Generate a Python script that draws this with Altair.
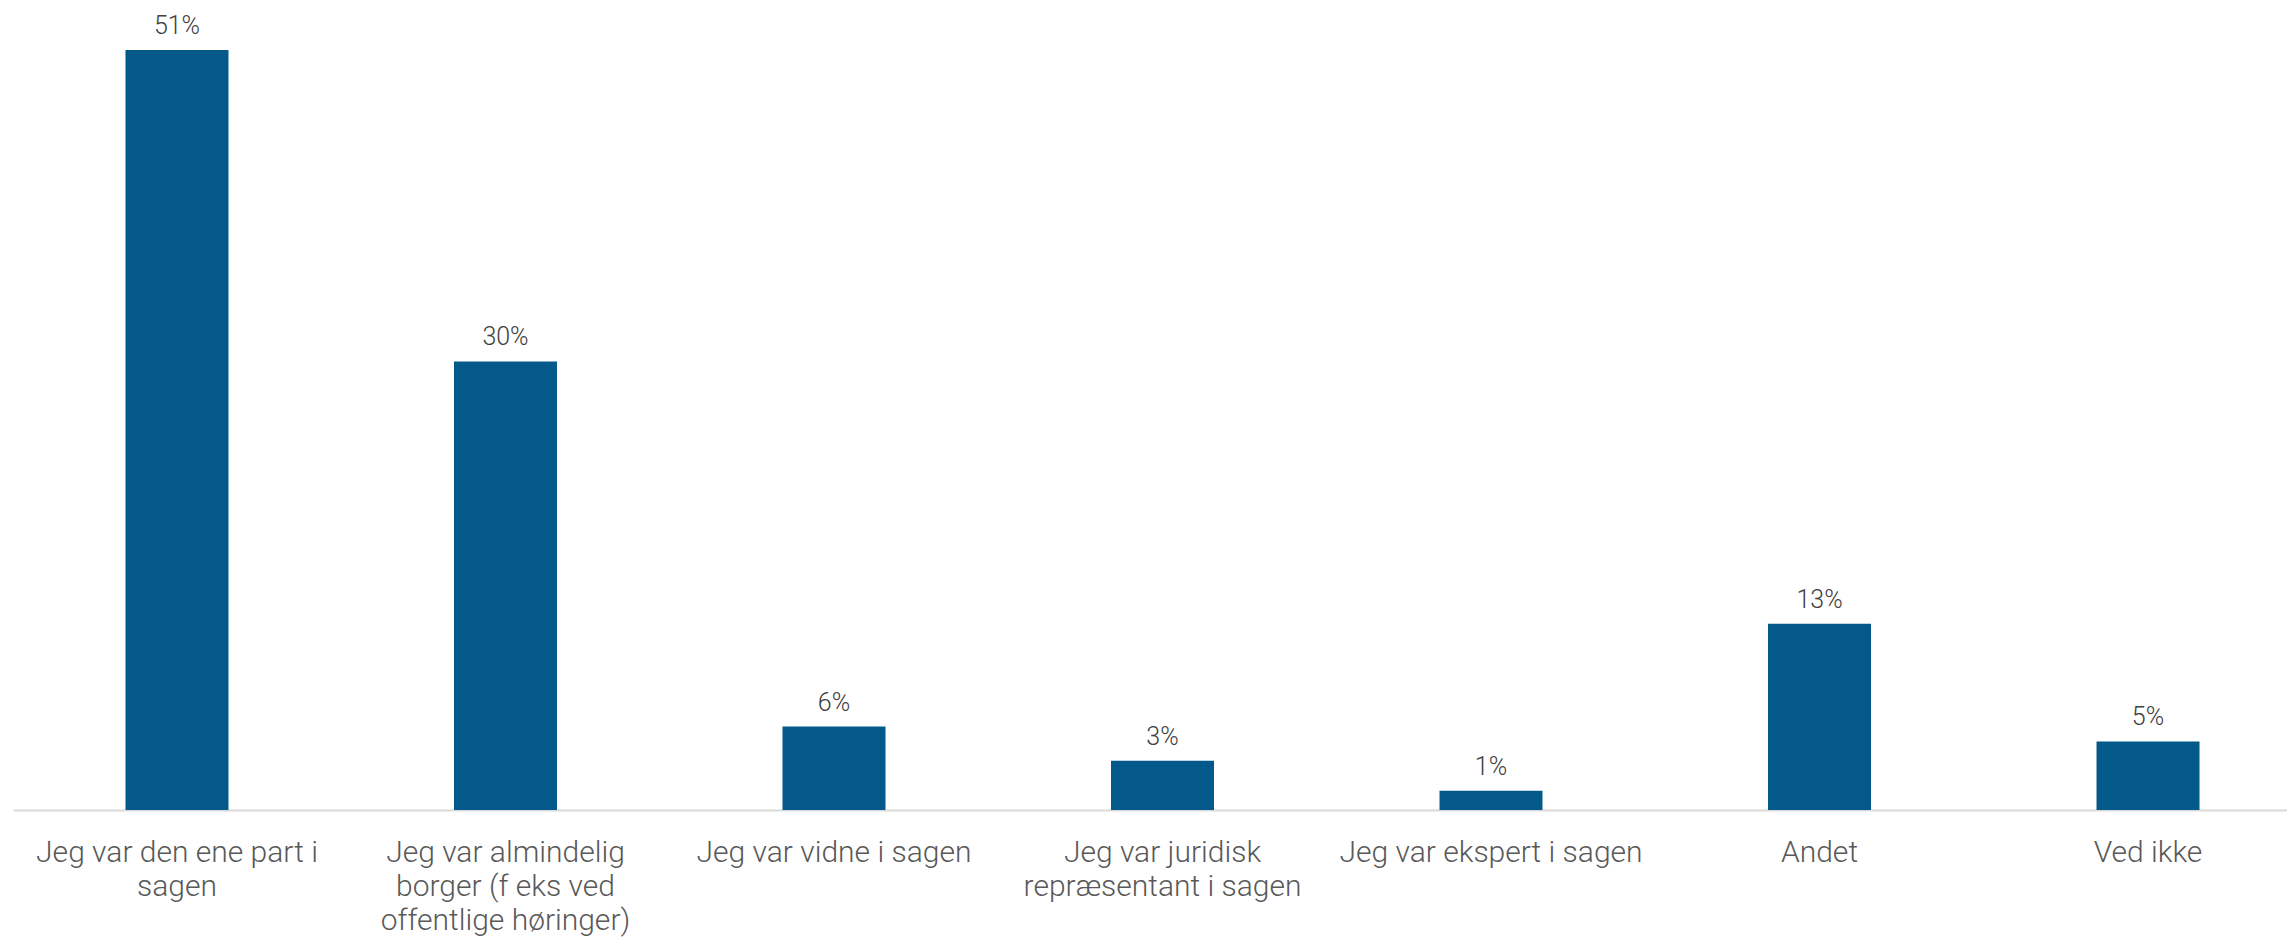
import altair as alt
import pandas as pd

categories = [
    "Jeg var den ene part i\nsagen",
    "Jeg var almindelig\nborger (f eks  ved\noffentlige høringer)",
    "Jeg var vidne i sagen",
    "Jeg var juridisk\nrepræsentant i sagen",
    "Jeg var ekspert i sagen",
    "Andet",
    "Ved ikke",
]
values = [51.0, 30.1, 5.6, 3.3, 1.3, 12.5, 4.6]
value_labels = ["51%", "30%", "6%", "3%", "1%", "13%", "5%"]

df = pd.DataFrame({"cat": categories, "val": values, "lab": value_labels})

FONT = "Roboto"

x = alt.X(
    "cat:N",
    sort=None,
    title=None,
    scale=alt.Scale(paddingInner=0.6865, paddingOuter=0.3044, align=0.5625),
    axis=alt.Axis(
        labelAngle=0,
        ticks=False,
        labelPadding=27,
        labelFont=FONT,
        labelFontSize=30,
        labelFontWeight=300,
        labelColor="#595959",
        labelLineHeight=34,
        labelLimit=500,
        labelExpr="split(datum.value, '\\n')",
        domainColor="#d9d9d9",
        domainWidth=2,
        grid=False,
    ),
)
y = alt.Y("val:Q", title=None, scale=alt.Scale(domain=[0, 51], nice=False, zero=True), axis=None)

bars = alt.Chart(df).mark_bar(color="#02598A").encode(x=x, y=y)
text = alt.Chart(df).mark_text(
    baseline="alphabetic", dy=-16, font=FONT, fontSize=25, fontWeight=300, color="#404040"
).encode(x=x, y=y, text="lab:N")

chart = (
    alt.layer(bars, text)
    .properties(
        width=2274,
        height=760,
        autosize=alt.AutoSizeParams(type="none"),
        padding={"left": 5, "top": 42, "right": 0, "bottom": 128},
    )
    .configure_view(stroke=None)
)

chart.save("out.html", embed_options={"renderer": "svg", "actions": False})
